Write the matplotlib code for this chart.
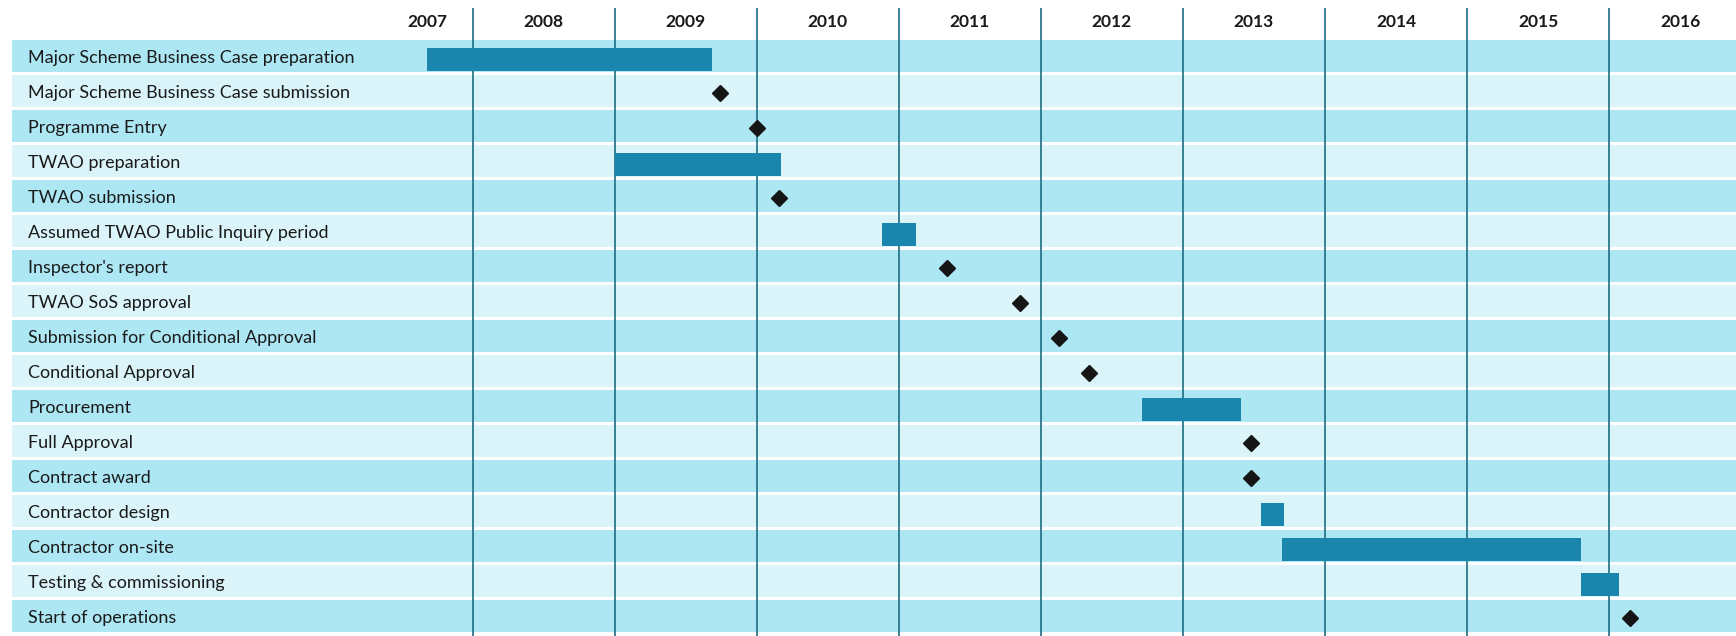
import matplotlib
matplotlib.use("Agg")
import matplotlib.pyplot as plt

# task list, top to bottom
tasks = ["Major Scheme Business Case preparation",
         "Major Scheme Business Case submission",
         "Programme Entry",
         "TWAO preparation",
         "TWAO submission",
         "Assumed TWAO Public Inquiry period",
         "Inspector's report",
         "TWAO SoS approval",
         "Submission for Conditional Approval",
         "Conditional Approval",
         "Procurement",
         "Full Approval",
         "Contract award",
         "Contractor design",
         "Contractor on-site",
         "Testing & commissioning",
         "Start of operations"]

# start / end in decimal years, end None = milestone
starts = [2007.68, 2009.74, 2010.0, 2009.0, 2010.16, 2010.88, 2011.34, 2011.85,
          2012.13, 2012.34, 2012.71, 2013.48, 2013.48, 2013.55, 2013.70, 2015.80, 2016.15]
ends = [2009.685, None, None, 2010.17, None, 2011.12, None, None,
        None, None, 2013.41, None, None, 2013.71, 2015.80, 2016.07, None]

years = [2007, 2008, 2009, 2010, 2011, 2012, 2013, 2014, 2015, 2016]

dark_band = '#ade7f4'
light_band = '#daf4f9'
bar_col = '#1a86ae'
line_col = '#1d6d82'

fig = plt.figure(figsize=(17.36, 6.36), dpi=100)
ax = fig.add_axes([0, 0, 1, 1])
ax.set_xlim(2004.673, 2016.893)
ax.set_ylim(16.571, -1.6)
ax.axis('off')

band_left = 2004.756
n = len(tasks)
for i in range(n):
    c = dark_band if i % 2 == 0 else light_band
    ax.barh(i, 2016.893 - band_left, left=band_left, height=0.92, color=c, zorder=0)

# year grid lines
ax.vlines(years[1:], -1.371, 16.6, color=line_col, linewidth=1.2, zorder=1)

for y in years:
    x = y + 0.5 if y > 2007 else 2007.68
    ax.text(x, -0.98, str(y), ha='center', va='center', fontsize=12.5,
            fontweight='bold', family='Lato', color='#1a1a1a')

for i, t in enumerate(tasks):
    ax.text(2004.87, i + 0.05, t, ha='left', va='center', fontsize=13,
            family='Lato', color='#1a1a1a', zorder=3)

    if ends[i] is None:
        ax.plot(starts[i], i + 0.05, marker='D', markersize=8, color='#151515',
                linestyle='none', zorder=4)
    else:
        ax.barh(i + 0.1, ends[i] - starts[i], left=starts[i], height=0.68,
                color=bar_col, zorder=3)

fig.savefig('out.png', dpi=100)
